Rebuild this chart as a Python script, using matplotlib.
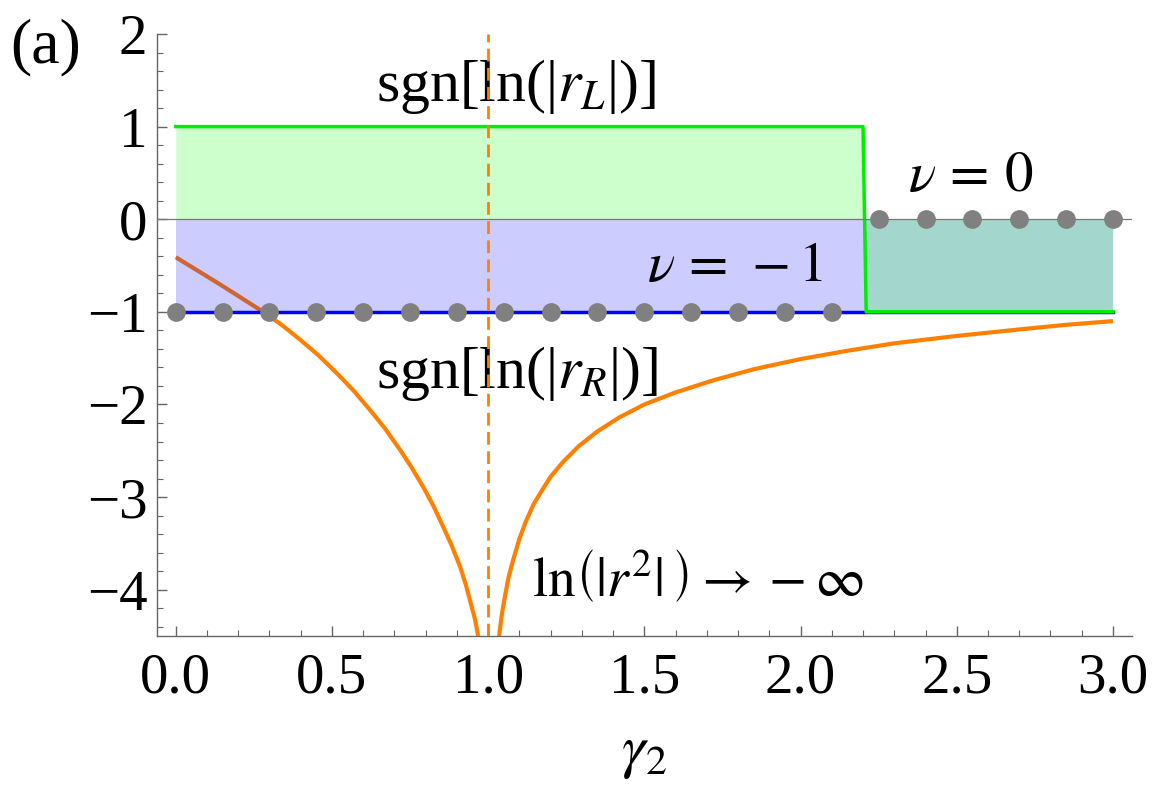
import numpy as np
import matplotlib.pyplot as plt

plt.rcParams['font.family'] = ['Liberation Serif', 'DejaVu Serif']
plt.rcParams['mathtext.fontset'] = 'stix'

# sgn[ln|r_L|] and sgn[ln|r_R|] step curves
gamma_L = [0.0, 2.2, 2.21, 3.0]
sgn_L = [1, 1, -1, -1]
gamma_R = [0.0, 3.0]
sgn_R = [-1, -1]

# ln|r^2|, left and right of the singular point
lnr2_x_left = [0.0, 0.14, 0.28, 0.339, 0.398, 0.457, 0.515, 0.569, 0.622, 0.67, 0.718,
               0.755, 0.792, 0.824, 0.856, 0.883, 0.910, 0.929, 0.947, 0.958, 0.968]
lnr2_y_left = [-0.41, -0.70, -1.0, -1.14, -1.30, -1.47, -1.66, -1.85, -2.06, -2.26, -2.49,
               -2.68, -2.89, -3.09, -3.32, -3.52, -3.75, -3.95, -4.18, -4.32, -4.5]
lnr2_x_right = [1.035, 1.045, 1.054, 1.065, 1.08, 1.10, 1.12, 1.145, 1.17, 1.20, 1.24,
                1.29, 1.35, 1.42, 1.50, 1.60, 1.72, 1.85, 2.0, 2.15, 2.3, 2.5, 2.7,
                2.85, 3.0]
lnr2_y_right = [-4.50, -4.24, -4.07, -3.87, -3.68, -3.45, -3.27, -3.08, -2.94, -2.78, -2.62,
                -2.45, -2.29, -2.14, -2.00, -1.87, -1.74, -1.62, -1.51, -1.42, -1.34,
                -1.26, -1.19, -1.14, -1.10]

gamma_c = 1.0

# winding number nu (grey dots)
nu_x = [0.0, 0.15, 0.30, 0.45, 0.60, 0.75, 0.90, 1.05, 1.20, 1.35, 1.50, 1.65, 1.80, 1.95, 2.10,
        2.25, 2.40, 2.55, 2.70, 2.85, 3.00]
nu_y = [-1, -1, -1, -1, -1, -1, -1, -1, -1, -1, -1, -1, -1, -1, -1,
        0, 0, 0, 0, 0, 0]

fig = plt.figure(figsize=(11.52, 7.92), dpi=100)
ax = fig.add_axes([157/1152, 1-636/792, (1131.7-157)/1152, (636-34)/792])

ax.plot(lnr2_x_left, lnr2_y_left, color='#ff8000', lw=3.0, zorder=1, solid_capstyle='butt')
ax.plot(lnr2_x_right, lnr2_y_right, color='#ff8000', lw=3.0, zorder=1, solid_capstyle='butt')

ax.fill_between(gamma_R, sgn_R, 0, color='#0000ff', alpha=0.2, lw=0, zorder=2)
ax.fill_between(gamma_L, sgn_L, 0, color='#00ff00', alpha=0.2, lw=0, zorder=2)
ax.plot(gamma_R, sgn_R, color='#0000ff', lw=2.5, zorder=3)
ax.plot(gamma_L, sgn_L, color='#00ee00', lw=2.5, zorder=3)

ax.axhline(0, color='#777777', lw=0.9, zorder=3)
ax.axvline(gamma_c, color='#ff8000', lw=2.0, dashes=(4.6, 2.3), zorder=4)

ax.plot(nu_x, nu_y, 'o', color='#808080', ms=13.5, mec='none', zorder=5)

ax.set_xlim(-0.06, 3.06)
ax.set_ylim(-4.5, 2)
ax.set_xticks([0.0, 0.5, 1.0, 1.5, 2.0, 2.5, 3.0])
ax.set_xticklabels(['0.0', '0.5', '1.0', '1.5', '2.0', '2.5', '3.0'])
ax.set_xticks(np.arange(-0.0, 3.01, 0.1), minor=True)
ax.set_yticks([-4, -3, -2, -1, 0, 1, 2])
ax.set_yticks(np.arange(-4.4, 2.01, 0.2), minor=True)

for s in ['top', 'right']:
    ax.spines[s].set_visible(False)
for s in ['left', 'bottom']:
    ax.spines[s].set_color('#666666')
    ax.spines[s].set_linewidth(1.0)

ax.tick_params(which='major', direction='in', length=7, width=1, color='#666666', labelsize=41)
ax.tick_params(which='minor', direction='in', length=4, width=0.8, color='#666666')
ax.tick_params(axis='x', which='major', pad=12)
ax.tick_params(axis='y', which='major', pad=7)

ax.set_xlabel(r'$\gamma_2$', fontsize=43, labelpad=16)

ax.text(1.089, 1.277, r'sgn[ln(|$r_L$|)]', fontsize=43, ha='center', va='baseline')
ax.text(1.092, -1.82, r'sgn[ln(|$r_R$|)]', fontsize=43, ha='center', va='baseline')
ax.text(1.789, -0.666, r'$\nu\,=\,-1$', fontsize=41, ha='center', va='baseline')
ax.text(2.545, 0.306, r'$\nu\,=\,0$', fontsize=41, ha='center', va='baseline')
ax.text(1.672, -4.06, r'$\mathrm{ln}\left(|r^{2}|_{\,}\right)\rightarrow -\infty$',
        fontsize=40, ha='center', va='baseline')

fig.text(10/1152, 1-62/792, '(a)', fontsize=46, ha='left', va='baseline')

fig.savefig('out.png', dpi=100)
